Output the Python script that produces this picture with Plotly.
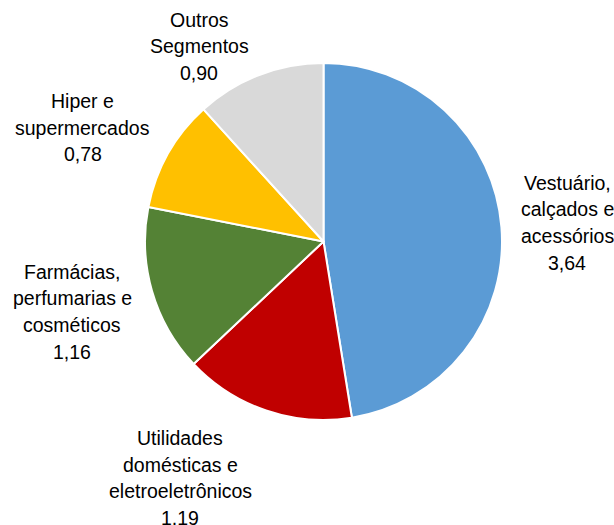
import plotly.graph_objects as go

categories = ["Vestuário,<br>calçados e<br>acessórios",
              "Utilidades<br>domésticas e<br>eletroeletrônicos",
              "Farmácias,<br>perfumarias e<br>cosméticos",
              "Hiper e<br>supermercados",
              "Outros<br>Segmentos"]
values = [3.64, 1.19, 1.16, 0.78, 0.90]
colors = ["#5B9BD5", "#C00000", "#548235", "#FFC000", "#D9D9D9"]

W, H = 614, 525
# label block centres (paper coords), one per category
label_x = [567 / W, 180 / W, 72 / W, 82.5 / W, 199 / W]
label_y = [1 - 222.75 / H, 1 - 478 / H, 1 - 311.75 / H, 1 - 127.7 / H, 1 - 46.3 / H]
line_step = 26.5 / H
FONT = dict(family="Liberation Sans, Arial, sans-serif", size=19.5, color="black")

fig = go.Figure(go.Pie(
    labels=[c.replace("<br>", " ") for c in categories],
    values=values,
    textinfo="none",
    sort=False,
    direction="clockwise",
    rotation=0,
    marker=dict(colors=colors, line=dict(color="white", width=2)),
    domain=dict(x=[0.2362, 0.8176], y=[0.2, 0.88]),
    showlegend=False,
    hoverinfo="label+value",
))

annotations = []
for cat, v, xc, yc in zip(categories, values, label_x, label_y):
    lines = cat.split("<br>") + [f"{v:.2f}".replace(".", ",")]
    n = len(lines)
    for i, ln in enumerate(lines):
        annotations.append(dict(
            x=xc, y=yc - (i - (n - 1) / 2) * line_step,
            xref="paper", yref="paper",
            text=ln, showarrow=False,
            xanchor="center", yanchor="middle",
            font=FONT,
        ))

fig.update_layout(
    width=W, height=H,
    margin=dict(l=0, r=0, t=0, b=0),
    paper_bgcolor="white",
    plot_bgcolor="white",
    annotations=annotations,
)
fig.write_html(
    "out.html",
    config={"displayModeBar": False},
    post_script="document.body.style.margin='0px';document.body.style.overflow='hidden';",
)
